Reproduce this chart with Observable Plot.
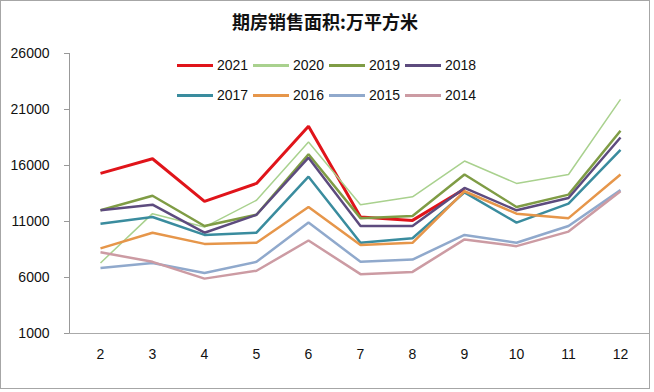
<!DOCTYPE html>
<html><head><meta charset="utf-8">
<script src="https://cdn.jsdelivr.net/npm/d3@7"></script>
<script src="https://cdn.jsdelivr.net/npm/@observablehq/plot@0.6"></script>
<style>
body{margin:0;background:#fff;}
#wrap{position:relative;width:654px;height:392px;overflow:hidden;font-family:"Liberation Sans",Arial,sans-serif;background:#fff;}
#border{position:absolute;left:0;top:0;width:650px;height:389px;border:1px solid #a6a6a6;box-sizing:border-box;pointer-events:none;}
#title{position:absolute;left:0;width:650px;top:8px;text-align:center;font-weight:bold;font-size:18px;font-family:"Noto Sans CJK SC",sans-serif;color:#111;}
.item{position:absolute;display:flex;align-items:center;font-size:14px;color:#111;height:20px;}
.sw{width:36px;height:3px;margin-right:4px;}
#chart{position:absolute;left:0;top:0;}
</style></head>
<body>
<div id="wrap"><div id="chart"></div><div id="title">期房销售面积:万平方米</div><div id="legend"></div><div id="border"></div></div>
<script>
const months = [2,3,4,5,6,7,8,9,10,11,12];
const yTicks = [1000,6000,11000,16000,21000,26000];
const years = ["2021","2020","2019","2018","2017","2016","2015","2014"];
const colors = ["#e0141a","#a9d18e","#7f9c45","#5d4b7e","#3a8c9e","#e6964a","#90a9cc","#cc9ba3"];
const widths = [3,1.5,2.5,2.5,2.5,2.5,2.5,2.5];
const v2021 = [15300,16600,12800,14400,19500,11400,11100,13900];
const v2020 = [7300,11700,10500,12900,18100,12500,13200,16400,14400,15200,21900];
const v2019 = [12000,13300,10600,11600,17000,11300,11500,15200,12300,13400,19100];
const v2018 = [12000,12500,10000,11600,16700,10600,10600,14000,12000,13100,18500];
const v2017 = [10800,11400,9800,10000,15000,9100,9500,13600,10900,12600,17400];
const v2016 = [8600,10000,9000,9100,12300,8900,9100,13700,11700,11300,15200];
const v2015 = [6850,7300,6400,7400,10900,7400,7600,9800,9100,10600,13800];
const v2014 = [8250,7400,5900,6600,9300,6300,6500,9400,8800,10100,13700];
const series = [v2021,v2020,v2019,v2018,v2017,v2016,v2015,v2014];

const lineMarks = series.map((vals,i) =>
  Plot.lineY(vals.map((v,j)=>({month:months[j], value:v})),
    {x:"month", y:"value", stroke:colors[i], strokeWidth:widths[i], strokeLinejoin:"miter", strokeLinecap:"butt"})
);

const svg = Plot.plot({
  width:654, height:392,
  marginLeft:69, marginRight:4, marginTop:53, marginBottom:59,
  style:{background:"transparent", fontFamily:"Liberation Sans, Arial, sans-serif", color:"#111"},
  x:{type:"point", domain:months, padding:0.5, label:null},
  y:{domain:[1000,26000], label:null},
  marks:[
    Plot.axisY(yTicks, {tickSize:5, tickPadding:15, fontSize:14, stroke:"#999", tickFormat:d=>String(d), label:null}),
    Plot.axisX({tickSize:0, tickPadding:16, fontSize:14, label:null}),
    Plot.frame({anchor:"left", stroke:"#999"}),
    Plot.ruleY([1000], {stroke:"#aaa"}),
    ...lineMarks
  ]
});
document.getElementById("chart").appendChild(svg);

const legend = document.getElementById("legend");
years.forEach((y,i)=>{
  const col = i%4, row = Math.floor(i/4);
  const d = document.createElement("div");
  d.className="item";
  d.style.left = (177+76*col)+"px";
  d.style.top = (55+30*row)+"px";
  d.innerHTML = `<span class="sw" style="background:${colors[i]}"></span><span>${y}</span>`;
  legend.appendChild(d);
});
</script>
</body></html>
